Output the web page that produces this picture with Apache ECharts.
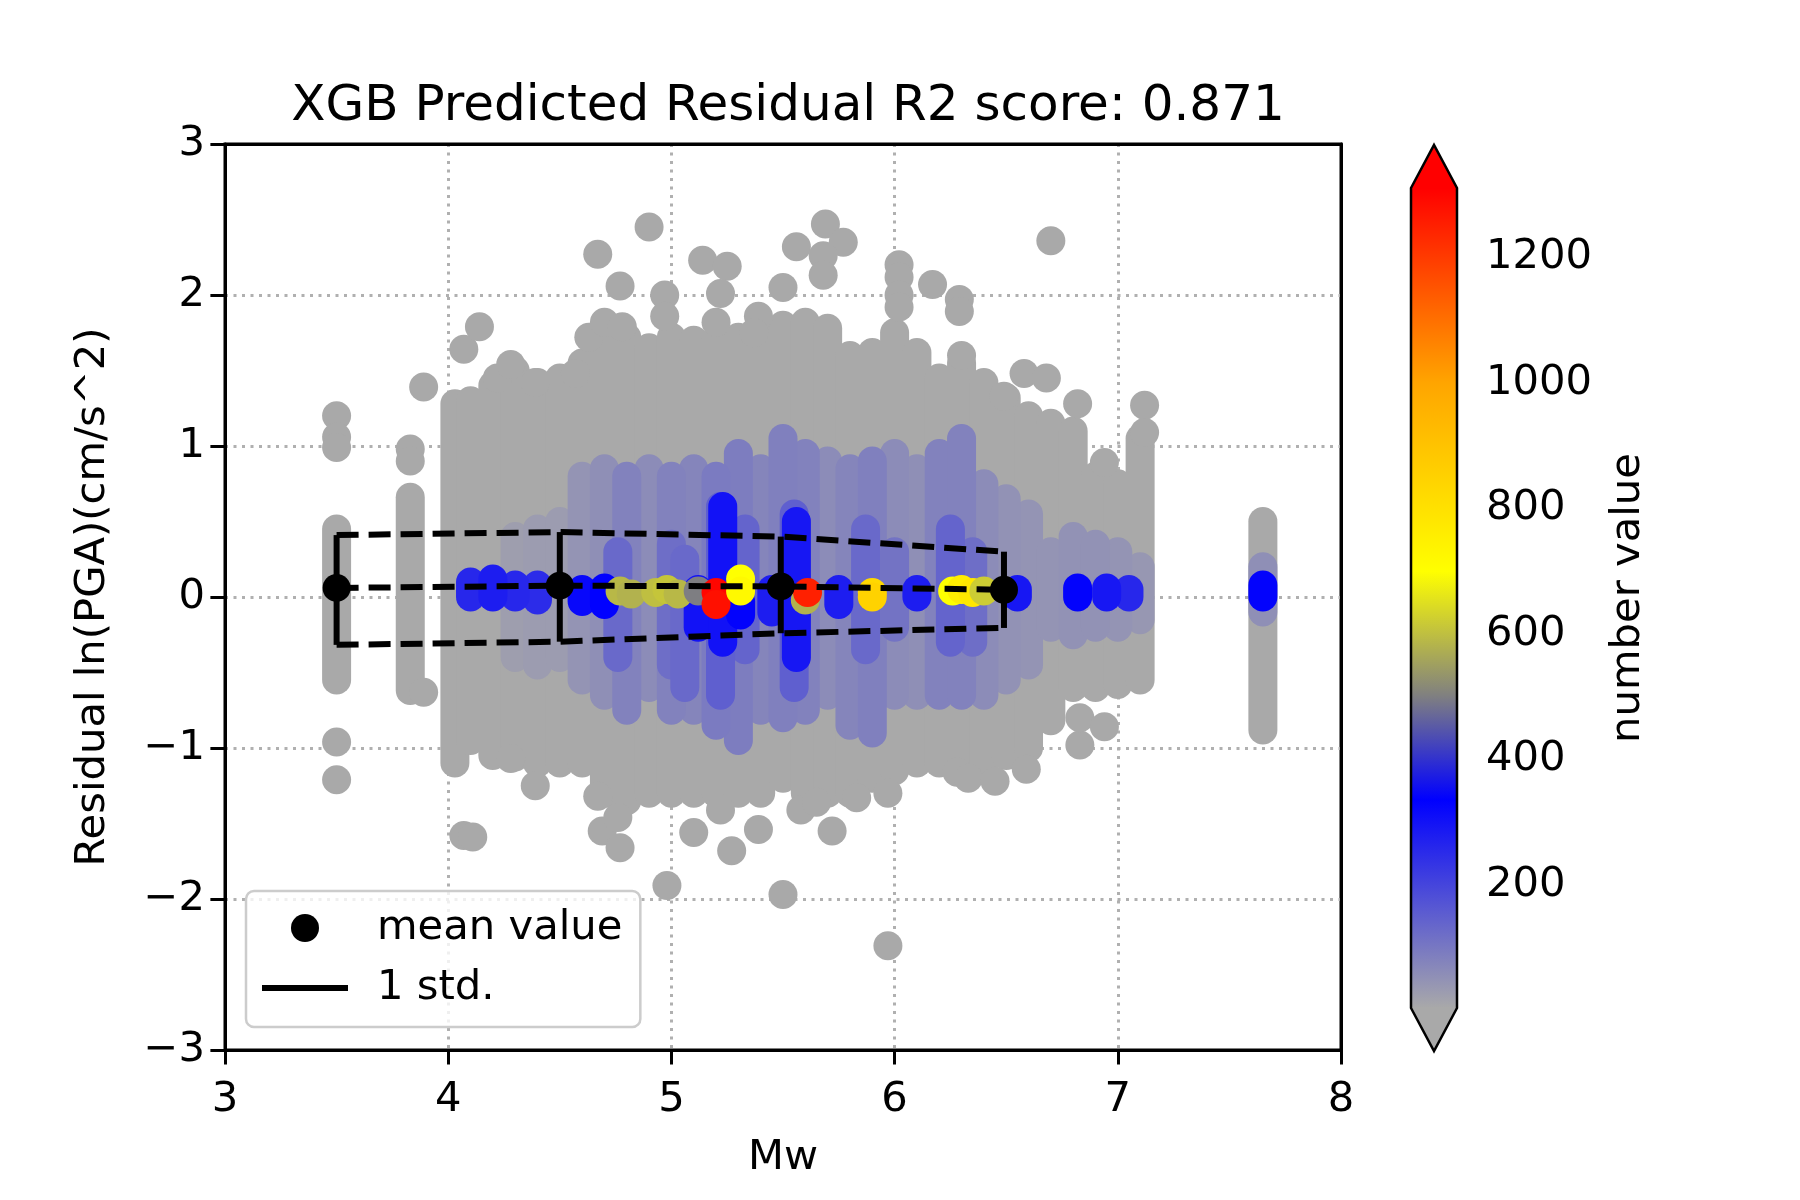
<!DOCTYPE html>
<html>
<head>
<meta charset="utf-8">
<script src="https://cdn.jsdelivr.net/npm/echarts@6/dist/echarts.min.js"></script>
<style>
html, body { margin: 0; padding: 0; background: #fff; }
#main { width: 1800px; height: 1200px; }
</style>
</head>
<body>
<div id="main"></div>
<script>
var FONT = 'DejaVu Sans';
var DOT = 29;

// extent of the scatter cloud per Mw column (centres of end circles)
var colMw  = [3.5, 3.83, 4.03, 4.1, 4.2, 4.3, 4.4, 4.5, 4.6, 4.7, 4.8, 4.9, 5.0, 5.1, 5.2, 5.3, 5.4, 5.5, 5.6, 5.7, 5.8, 5.9, 6.0, 6.1, 6.2, 6.3, 6.4, 6.5, 6.6, 6.7, 6.8, 6.9, 7.0, 7.1, 7.65];
var colTop = [0.45, 0.66, 1.28, 1.3, 1.4, 1.5, 1.42, 1.45, 1.55, 1.65, 1.72, 1.65, 1.72, 1.7, 1.7, 1.72, 1.72, 1.8, 1.82, 1.78, 1.6, 1.62, 1.75, 1.62, 1.45, 1.55, 1.42, 1.32, 1.2, 1.15, 1.1, 0.8, 0.75, 1.05, 0.5];
var colBot = [-0.55, -0.62, -1.1, -0.95, -1.05, -1.06, -1.1, -1.1, -1.1, -1.3, -1.35, -1.3, -1.3, -1.3, -1.3, -1.3, -1.3, -1.2, -1.3, -1.3, -1.3, -1.2, -1.15, -1.1, -1.1, -1.15, -1.15, -1.05, -1.0, -0.82, -0.6, -0.6, -0.58, -0.55, -0.88];

// lavender (medium density) part of each column
var midMw    = [4.3, 4.4, 4.5, 4.6, 4.7, 4.8, 4.9, 5.0, 5.1, 5.2, 5.3, 5.4, 5.5, 5.6, 5.7, 5.8, 5.9, 6.0, 6.1, 6.2, 6.3, 6.4, 6.5, 6.6, 6.7, 6.8, 6.9, 7.0, 7.1, 7.65];
var midTop   = [0.4, 0.45, 0.5, 0.8, 0.85, 0.8, 0.85, 0.8, 0.85, 0.8, 0.95, 0.85, 1.05, 0.95, 0.9, 0.85, 0.9, 0.95, 0.85, 0.95, 1.05, 0.75, 0.65, 0.55, 0.3, 0.4, 0.35, 0.3, 0.2, 0.2];
var midBot   = [-0.4, -0.45, -0.4, -0.55, -0.65, -0.75, -0.6, -0.75, -0.75, -0.85, -0.95, -0.75, -0.8, -0.75, -0.65, -0.85, -0.9, -0.65, -0.65, -0.65, -0.65, -0.65, -0.55, -0.45, -0.2, -0.25, -0.2, -0.2, -0.15, -0.1];
var midCount = [25, 30, 30, 45, 55, 80, 60, 80, 75, 95, 90, 75, 85, 80, 60, 75, 85, 60, 55, 80, 80, 60, 50, 45, 45, 50, 50, 45, 40, 55];

// blue (high density) strips
var coreMw    = [4.1, 4.2, 4.3, 4.4, 4.6, 4.7, 4.76, 5.0, 5.06, 5.12, 5.22, 5.23, 5.31, 5.33, 5.45, 5.55, 5.56, 5.75, 5.87, 6.0, 6.1, 6.25, 6.35, 6.55, 6.82, 6.95, 7.05, 7.65];
var coreTop   = [0.1, 0.12, 0.08, 0.08, 0.05, 0.06, 0.3, 0.35, 0.25, 0.05, 0.6, 0.6, -0.03, 0.45, 0.05, 0.55, 0.5, 0.05, 0.45, 0.3, 0.05, 0.45, 0.3, 0.05, 0.06, 0.06, 0.05, 0.08];
var coreBot   = [0.0, 0.0, 0.0, -0.02, -0.03, -0.05, -0.4, -0.45, -0.6, -0.2, -0.65, -0.3, -0.12, -0.35, -0.1, -0.6, -0.4, -0.05, -0.35, -0.2, 0.0, -0.3, -0.3, 0.0, 0.0, 0.0, 0.0, 0.0];
var coreCount = [260, 280, 260, 250, 320, 335, 130, 120, 130, 300, 150, 300, 340, 140, 280, 150, 290, 280, 130, 110, 280, 140, 120, 290, 340, 290, 260, 340];

// isolated low-density points
var outMw = [3.5, 3.5, 3.5, 3.5, 3.5, 3.83, 3.83, 3.89, 3.89,
  4.07, 4.14, 4.22, 4.28, 4.39, 4.57, 4.67, 4.63, 4.7, 4.77, 4.78, 4.9, 4.97, 4.97, 5.14, 5.25, 5.22, 5.2, 5.39, 5.37,
  5.5, 5.56, 5.69, 5.77, 5.68, 5.68, 6.02, 6.02, 6.02, 6.02, 6.17, 6.29, 6.29, 6.3, 6.7, 6.58, 6.68, 6.49, 6.82, 7.12, 7.12, 6.94,
  4.07, 4.11, 4.39, 4.28, 4.69, 4.67, 4.77, 4.76, 4.98, 5.1, 5.22, 5.27, 5.39, 5.5, 5.58, 5.65, 5.72, 5.83, 5.97, 5.97,
  6.28, 6.33, 6.45, 6.59, 6.83, 6.83, 6.94];
var outY = [1.2, 1.06, 0.99, -0.96, -1.21, 0.98, 0.9, 1.39, -0.63,
  1.64, 1.79, 1.45, 1.54, 1.42, 1.48, 2.27, 1.72, 1.82, 2.06, 1.79, 2.45, 2.0, 1.86, 2.23, 2.19, 2.01, 1.82, 1.86, 1.75,
  2.05, 2.32, 2.47, 2.35, 2.26, 2.13, 2.2, 2.12, 2.0, 1.92, 2.07, 1.97, 1.89, 1.6, 2.36, 1.48, 1.45, 1.33, 1.28, 1.27, 1.09, 0.89,
  -1.58, -1.59, -1.25, -1.07, -1.55, -1.32, -1.66, -1.46, -1.91, -1.56, -1.41, -1.68, -1.54, -1.97, -1.41, -1.36, -1.55, -1.33, -2.31, -1.3,
  -1.16, -1.2, -1.22, -1.14, -0.98, -0.8, -0.86];

// densest points along zero
var hotMw    = [4.77, 4.82, 4.93, 4.98, 5.03, 5.12, 5.2, 5.2, 5.31, 5.31, 5.6, 5.61, 5.9, 5.9, 6.26, 6.3, 6.35, 6.4];
var hotY     = [0.04, 0.02, 0.03, 0.05, 0.02, 0.04, 0.03, -0.05, 0.12, 0.04, -0.02, 0.03, 0.03, 0.0, 0.04, 0.05, 0.03, 0.04];
var hotCount = [590, 580, 600, 610, 590, 500, 1300, 1280, 700, 720, 580, 1250, 830, 850, 700, 760, 780, 620];

// binned mean and +/- 1 std
var meanMw  = [3.5, 4.5, 5.49, 6.49];
var meanVal = [0.06, 0.075, 0.07, 0.048];
var stdUp   = [0.41, 0.43, 0.40, 0.30];
var stdLow  = [-0.317, -0.296, -0.24, -0.205];

// colour bar
var cbMin = 4, cbMax = 1311;
var cbTicks = [200, 400, 600, 800, 1000, 1200];
var cmapVal = [4, 336, 502, 700, 1000, 1311];
var cmapCol = ['#a9a9a9', '#0000ff', '#808080', '#ffff00', '#ffa500', '#ff0000'];

function hex(c) { return [parseInt(c.substr(1, 2), 16), parseInt(c.substr(3, 2), 16), parseInt(c.substr(5, 2), 16)]; }
function colorFor(v) {
  if (v <= cmapVal[0]) return cmapCol[0];
  for (var i = 1; i < cmapVal.length; i++) {
    if (v <= cmapVal[i]) {
      var t = (v - cmapVal[i - 1]) / (cmapVal[i] - cmapVal[i - 1]);
      var a = hex(cmapCol[i - 1]), b = hex(cmapCol[i]);
      return 'rgb(' + [0, 1, 2].map(function (k) { return Math.round(a[k] + (b[k] - a[k]) * t); }).join(',') + ')';
    }
  }
  return cmapCol[cmapCol.length - 1];
}

function capsuleData(mw, top, bot, cnt) {
  return mw.map(function (m, i) { return [m, bot[i], top[i], cnt ? cnt[i] : 1]; })
    .sort(function (a, b) { return a[3] - b[3]; });
}

function renderCapsule(params, api) {
  var t = api.coord([api.value(0), api.value(2)]);
  var b = api.coord([api.value(0), api.value(1)]);
  var r = DOT / 2;
  return {
    type: 'rect',
    shape: { x: t[0] - r, y: t[1] - r, width: 2 * r, height: b[1] - t[1] + 2 * r, r: r },
    style: { fill: colorFor(api.value(3)) }
  };
}

function renderWhisker(params, api) {
  var t = api.coord([api.value(0), api.value(2)]);
  var b = api.coord([api.value(0), api.value(1)]);
  return {
    type: 'line',
    shape: { x1: t[0], y1: t[1], x2: b[0], y2: b[1] },
    style: { stroke: '#000', lineWidth: 6 }
  };
}

function renderColorbar(params, api) {
  var t = api.coord([0, api.value(1)]);
  var b = api.coord([0, api.value(0)]);
  var cs = params.coordSys;
  var x0 = cs.x, w = cs.width, xc = x0 + w / 2, tri = 43;
  var stops = cmapVal.map(function (v, i) { return { offset: (v - cbMin) / (cbMax - cbMin), color: cmapCol[i] }; });
  return {
    type: 'group',
    children: [
      { type: 'rect', shape: { x: x0, y: t[1], width: w, height: b[1] - t[1] },
        style: { fill: new echarts.graphic.LinearGradient(0, 1, 0, 0, stops) } },
      { type: 'polygon', shape: { points: [[x0, t[1] + 0.5], [xc, t[1] - tri], [x0 + w, t[1] + 0.5]] },
        style: { fill: cmapCol[cmapCol.length - 1] } },
      { type: 'polygon', shape: { points: [[x0, b[1] - 0.5], [xc, b[1] + tri], [x0 + w, b[1] - 0.5]] },
        style: { fill: cmapCol[0] } },
      { type: 'polygon', shape: { points: [[x0, t[1]], [xc, t[1] - tri], [x0 + w, t[1]], [x0 + w, b[1]], [xc, b[1] + tri], [x0, b[1]]] },
        style: { fill: 'none', stroke: '#000', lineWidth: 2.5 } }
    ]
  };
}

var minus = function (v) { return String(v).replace('-', '\u2212'); };
var txt = { fontFamily: FONT, fontSize: 41.7, color: '#000' };
var dash = { color: '#000', width: 6, type: [22, 10] };
var gridLine = { show: true, showMinLine: false, showMaxLine: false, lineStyle: { color: '#b0b0b0', width: 3, type: [3, 5.5] } };
var frame = { show: true, onZero: false, lineStyle: { color: '#000', width: 3 } };

var chart = echarts.init(document.getElementById('main'), null, { renderer: 'canvas' });

chart.setOption({
  backgroundColor: '#fff',
  animation: false,
  textStyle: { fontFamily: FONT },
  title: {
    text: 'XGB Predicted Residual R2 score: 0.871',
    left: 783, top: 77, textAlign: 'center',
    textStyle: { fontFamily: FONT, fontSize: 50, fontWeight: 'normal', color: '#000' }
  },
  grid: [
    { left: 225, top: 144, width: 1116, height: 906, show: true, borderColor: '#000', borderWidth: 3, backgroundColor: 'transparent' },
    { left: 1411, top: 188, width: 46, height: 820 }
  ],
  xAxis: [{
    type: 'value', min: 3, max: 8, interval: 1,
    name: 'Mw', nameLocation: 'middle', nameGap: 87, nameTextStyle: txt,
    axisLine: frame,
    axisTick: { show: true, length: 14.6, lineStyle: { color: '#000', width: 3 } },
    axisLabel: Object.assign({ margin: 29 }, txt),
    splitLine: gridLine
  }, {
    gridIndex: 1, type: 'value', min: 0, max: 1, show: false
  }, {
    type: 'value', min: 3, max: 8, position: 'top',
    axisLine: frame, axisTick: { show: false }, axisLabel: { show: false }, splitLine: { show: false }
  }],
  yAxis: [{
    type: 'value', min: -3, max: 3, interval: 1,
    name: 'Residual ln(PGA)(cm/s^2)', nameLocation: 'middle', nameRotate: 90, nameGap: 111, nameTextStyle: txt,
    axisLine: frame,
    axisTick: { show: true, length: 14.6, lineStyle: { color: '#000', width: 3 } },
    axisLabel: Object.assign({ margin: 20, formatter: minus }, txt),
    splitLine: gridLine
  }, {
    gridIndex: 1, type: 'value', min: cbMin, max: cbMax, position: 'right',
    name: 'number value', nameLocation: 'middle', nameRotate: 90, nameGap: 150, nameTextStyle: txt,
    axisLine: { show: false },
    axisTick: { show: true, customValues: cbTicks, length: 14.6, lineStyle: { color: '#000', width: 3 } },
    axisLabel: Object.assign({ customValues: cbTicks, margin: 29, formatter: function (v) { return String(v); } }, txt),
    splitLine: { show: false }
  }, {
    type: 'value', min: -3, max: 3, position: 'right',
    axisLine: frame, axisTick: { show: false }, axisLabel: { show: false }, splitLine: { show: false }
  }],
  legend: {
    orient: 'vertical', left: 246, top: 891,
    itemWidth: 86, itemHeight: 28, itemGap: 16,
    padding: [15, 18, 17, 16],
    borderColor: '#cccccc', borderWidth: 2.5, borderRadius: 8,
    backgroundColor: 'rgba(255,255,255,0.8)',
    selectedMode: false,
    textStyle: { fontFamily: FONT, fontSize: 41.7, color: '#000', lineHeight: 44, padding: [0, 0, 0, 24] },
    data: [
      { name: 'mean value', icon: 'circle', itemStyle: { color: '#000' } },
      { name: '1 std.', icon: 'path://M0,0H100V7H0Z', itemStyle: { color: '#000' } }
    ]
  },
  series: [
    { type: 'custom', name: 'cloud', renderItem: renderCapsule, data: capsuleData(colMw, colTop, colBot), z: 2 },
    { type: 'scatter', name: 'outliers', symbolSize: DOT, z: 2,
      itemStyle: { color: colorFor(1), opacity: 1 },
      data: outMw.map(function (m, i) { return [m, outY[i]]; }) },
    { type: 'custom', name: 'mid', renderItem: renderCapsule, data: capsuleData(midMw, midTop, midBot, midCount), z: 2 },
    { type: 'custom', name: 'core', renderItem: renderCapsule, data: capsuleData(coreMw, coreTop, coreBot, coreCount), z: 2 },
    { type: 'scatter', name: 'hot', symbolSize: DOT, z: 2,
      itemStyle: { color: function (p) { return colorFor(p.value[2]); }, opacity: 1 },
      data: hotMw.map(function (m, i) { return [m, hotY[i], hotCount[i]]; }) },
    { type: 'line', name: 'upper', data: meanMw.map(function (m, i) { return [m, stdUp[i]]; }),
      symbol: 'none', lineStyle: dash, z: 5 },
    { type: 'line', name: 'lower', data: meanMw.map(function (m, i) { return [m, stdLow[i]]; }),
      symbol: 'none', lineStyle: dash, z: 5 },
    { type: 'line', name: 'mean line', data: meanMw.map(function (m, i) { return [m, meanVal[i]]; }),
      symbol: 'none', lineStyle: dash, z: 5 },
    { type: 'custom', name: '1 std.', renderItem: renderWhisker, z: 5,
      itemStyle: { color: '#000' },
      data: meanMw.map(function (m, i) { return [m, stdLow[i], stdUp[i]]; }) },
    { type: 'scatter', name: 'mean value', symbolSize: 28, z: 6,
      itemStyle: { color: '#000', opacity: 1 },
      data: meanMw.map(function (m, i) { return [m, meanVal[i]]; }) },
    { type: 'custom', name: 'colorbar', xAxisIndex: 1, yAxisIndex: 1, clip: false, silent: true,
      renderItem: renderColorbar, data: [[cbMin, cbMax]] }
  ]
});
</script>
</body>
</html>
